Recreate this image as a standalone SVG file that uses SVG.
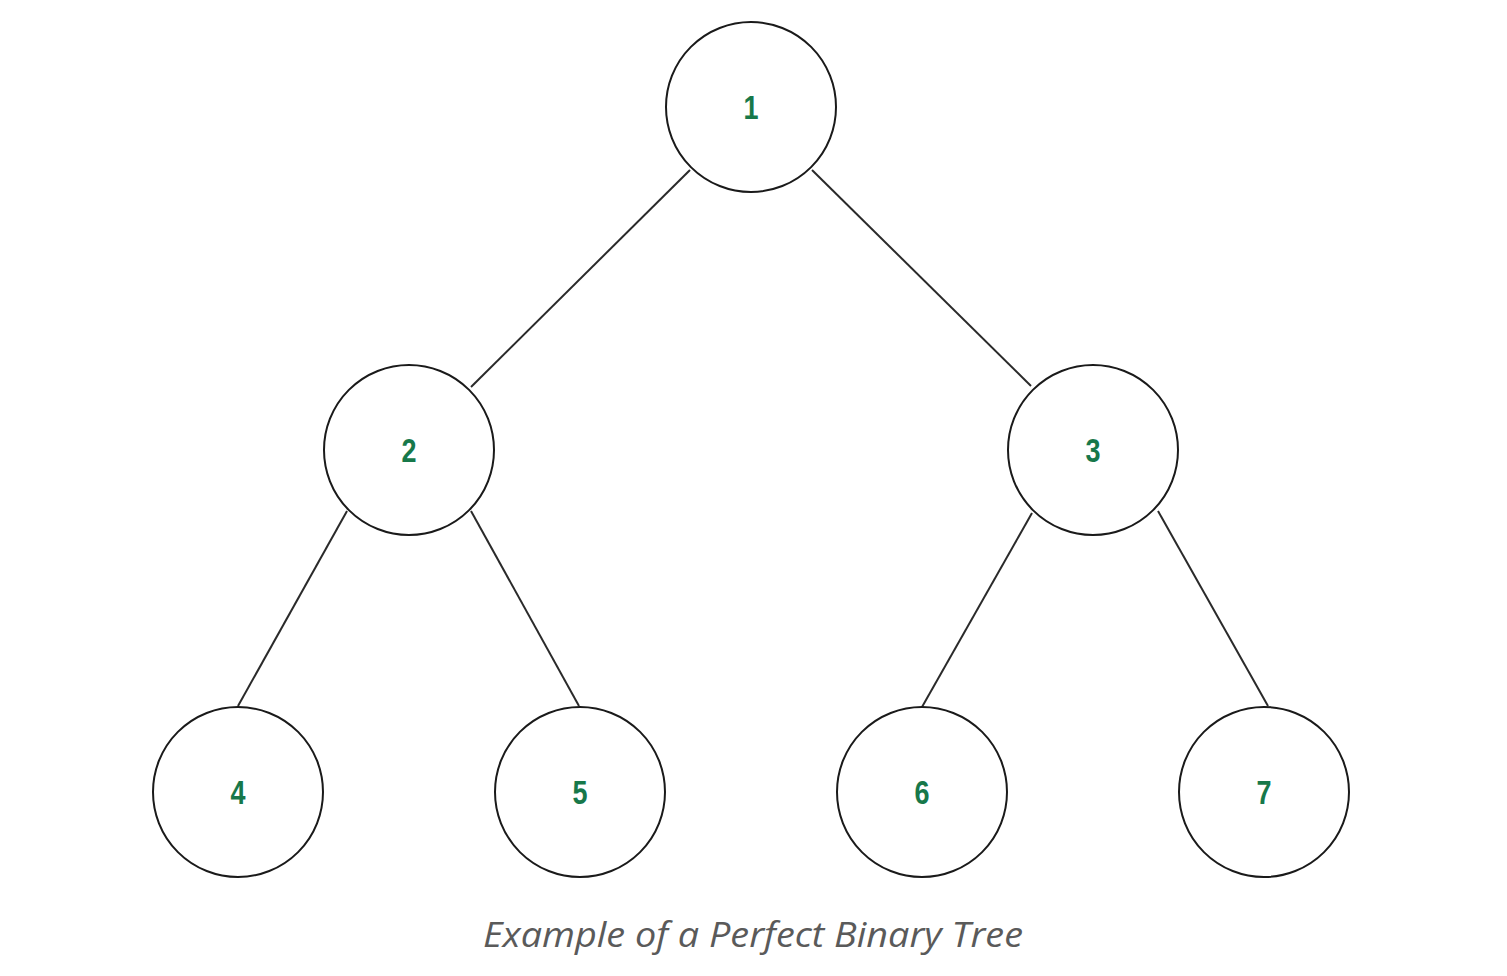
<svg xmlns="http://www.w3.org/2000/svg" width="1507" height="976" viewBox="0 0 1507 976">
<style>
.n{fill:#fff;stroke:#1a1a1a;stroke-width:2}
.t{font-family:"Liberation Sans",Arial,sans-serif;font-weight:bold;font-size:33px;fill:#17784a;text-anchor:middle}
.e{stroke:#2a2a2a;stroke-width:2;fill:none}
.cap{font-family:"Open Sans","Noto Sans",sans-serif;font-style:italic;font-size:35px;fill:#5a5a5a}
</style>
<rect width="1507" height="976" fill="#fff"/>
<g id="connectors">
<line class="e" x1="690" y1="170" x2="471" y2="387"/>
<line class="e" x1="812" y1="170" x2="1031" y2="386"/>
<line class="e" x1="347" y1="511" x2="238" y2="706"/>
<line class="e" x1="471" y1="511" x2="579" y2="706"/>
<line class="e" x1="1032" y1="513" x2="922" y2="707"/>
<line class="e" x1="1158" y1="511" x2="1268" y2="706"/>
</g>
<g id="node1"><circle class="n" cx="751" cy="107" r="85"/><text class="t" x="751" y="119" textLength="15" lengthAdjust="spacingAndGlyphs">1</text></g>
<g id="node2"><circle class="n" cx="409" cy="450" r="85"/><text class="t" x="409" y="462" textLength="15" lengthAdjust="spacingAndGlyphs">2</text></g>
<g id="node3"><circle class="n" cx="1093" cy="450" r="85"/><text class="t" x="1093" y="462" textLength="15" lengthAdjust="spacingAndGlyphs">3</text></g>
<g id="node4"><circle class="n" cx="238" cy="792" r="85"/><text class="t" x="238" y="804" textLength="15" lengthAdjust="spacingAndGlyphs">4</text></g>
<g id="node5"><circle class="n" cx="580" cy="792" r="85"/><text class="t" x="580" y="804" textLength="15" lengthAdjust="spacingAndGlyphs">5</text></g>
<g id="node6"><circle class="n" cx="922" cy="792" r="85"/><text class="t" x="922" y="804" textLength="15" lengthAdjust="spacingAndGlyphs">6</text></g>
<g id="node7"><circle class="n" cx="1264" cy="792" r="85"/><text class="t" x="1264" y="804" textLength="15" lengthAdjust="spacingAndGlyphs">7</text></g>
<text class="cap" x="753" y="947" text-anchor="middle" textLength="540" lengthAdjust="spacingAndGlyphs">Example of a Perfect Binary Tree</text>
</svg>
